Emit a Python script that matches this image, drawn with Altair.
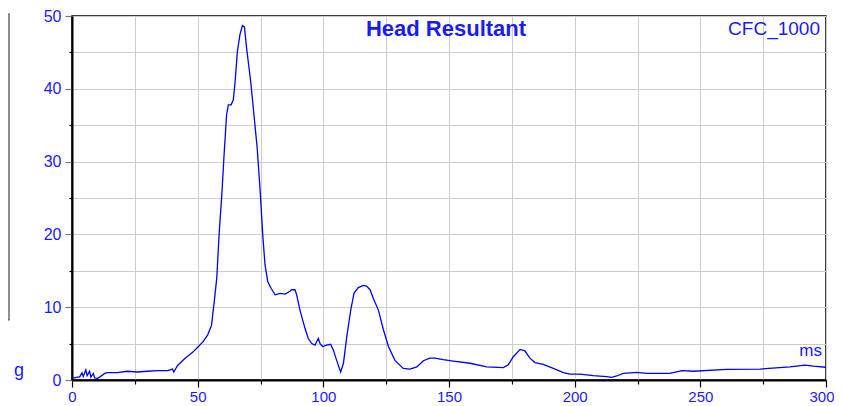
import altair as alt
import pandas as pd

# time (ms)
t_ms = [0, 1, 2, 3, 4, 4.5, 5.5, 6, 7, 7.5,
        8.5, 9, 10, 11, 13, 14, 18, 22, 26, 30,
        34, 38, 40, 40.5, 42, 45, 48, 50, 52, 54,
        55.5, 56.5, 57.6, 58.6, 59.6, 60.5, 61.5, 62.2, 63.3, 64.2,
        64.9, 65.8, 66.8, 67.8, 68.6, 69.5, 71.1, 72.8, 73.7, 74.8,
        75.9, 76.8, 77.9, 79.2, 80.8, 82.8, 84.8, 86.7, 87.4, 88.7,
        89.4, 90.7, 92.7, 94, 95.4, 96.7, 97.4, 98, 98.7, 99.7,
        101.3, 102.9, 104, 105.3, 106.9, 108, 109.3, 110.9, 112.2, 113.9,
        115.9, 117.2, 118.6, 119.9, 121.9, 123.9, 125.9, 128.5, 131.8, 134.5,
        137.2, 139.8, 142.4, 144.4, 147.7, 151.7, 158.4, 165, 171.6, 173.6,
        175.6, 178.3, 180.2, 182.2, 184.2, 187.5, 191.5, 195.5, 198.1, 202.1,
        207.4, 212.7, 214.7, 216.7, 219.4, 224.7, 228.7, 237.9, 242.6, 247.2,
        260.5, 273.7, 285.7, 291.6, 295, 300]

# head resultant acceleration (g)
accel_g = [0.3, 0.3, 0.4, 0.4, 1.0, 0.5, 1.4, 0.6, 1.2, 0.4,
           0.9, 0.3, 0.2, 0.4, 0.9, 1.0, 1.0, 1.2, 1.1, 1.2,
           1.3, 1.3, 1.5, 1.1, 2.0, 3.0, 3.8, 4.5, 5.2, 6.2,
           7.5, 10.5, 14, 20.4, 25.4, 30.9, 36.4, 37.8, 37.8, 38.5,
           41, 45.1, 47.4, 48.7, 48.5, 45.5, 41, 35, 31.8, 26.3,
           19.9, 15.8, 13.5, 12.6, 11.7, 11.9, 11.8, 12.2, 12.4, 12.4,
           11.7, 9.6, 7.1, 5.7, 5.0, 4.8, 5.3, 5.7, 5.0, 4.6,
           4.8, 4.9, 4.1, 2.7, 1.1, 2.3, 5.9, 9.6, 11.9, 12.7,
           13.0, 12.9, 12.4, 11.2, 9.6, 6.9, 4.6, 2.7, 1.6, 1.5,
           1.8, 2.65, 3.0, 3.0, 2.8, 2.6, 2.3, 1.8, 1.7, 2.1,
           3.2, 4.2, 4.0, 3.0, 2.4, 2.15, 1.6, 1.0, 0.8, 0.8,
           0.6, 0.45, 0.37, 0.55, 0.9, 1.05, 0.9, 0.9, 1.3, 1.2,
           1.45, 1.5, 1.8, 2.05, 1.9, 1.75]

x_ticks = [0, 25, 50, 75, 100, 125, 150, 175, 200, 225, 250, 275, 300]
y_ticks = [0, 5, 10, 15, 20, 25, 30, 35, 40, 45, 50]

title_text = ["Head Resultant"]
filter_text = ["CFC_1000"]
y_unit = ["g"]
x_unit = ["ms"]

FONT = "Liberation Sans"
BLUE = "#1a1aff"

df = pd.DataFrame({"t": t_ms, "g": accel_g})

line = alt.Chart(df).mark_line(color="#0000ff", strokeWidth=1.3).encode(
    x=alt.X("t:Q", scale=alt.Scale(domain=[0, 300], nice=False, zero=False),
            axis=alt.Axis(values=x_ticks, title=None,
                          labelExpr="datum.value % 50 === 0 ? datum.label : ''",
                          labelFlush=False,
                          labelAlign={"condition": {"test": "datum.value === 300", "value": "right"}, "value": "center"},
                          labelOffset={"condition": {"test": "datum.value === 300", "value": 8}, "value": 0},
                          tickSize={"condition": {"test": "datum.value % 50 === 0", "value": 7}, "value": 4},
                          tickColor="black", tickWidth=1.2,
                          domainColor="black", domainWidth=2,
                          labelPadding=2, labelFontSize=15, labelColor=BLUE,
                          labelFont=FONT, gridColor="#cccccc", gridWidth=1)),
    y=alt.Y("g:Q", scale=alt.Scale(domain=[0, 50], nice=False),
            axis=alt.Axis(values=y_ticks, title=None,
                          labelExpr="datum.value % 10 === 0 ? datum.label : ''",
                          tickSize={"condition": {"test": "datum.value % 10 === 0", "value": 7}, "value": 3},
                          tickColor={"condition": {"test": "datum.value % 10 === 0", "value": "#777777"}, "value": "black"},
                          tickWidth=1.2,
                          domainColor="black", domainWidth=2,
                          labelPadding=4, labelFontSize=16, labelColor=BLUE,
                          labelFont=FONT, gridColor="#cccccc", gridWidth=1)),
)

title = alt.Chart(pd.DataFrame({"s": title_text})).mark_text(
    font=FONT, fontSize=22, fontWeight="bold", color=BLUE, align="center", baseline="top"
).encode(text="s:N", x=alt.value(374), y=alt.value(3))

filt = alt.Chart(pd.DataFrame({"s": filter_text})).mark_text(
    font=FONT, fontSize=19, color=BLUE, align="right", baseline="top"
).encode(text="s:N", x=alt.value(748), y=alt.value(4))

gl = alt.Chart(pd.DataFrame({"s": y_unit})).mark_text(
    font=FONT, fontSize=18, color=BLUE, align="left", baseline="alphabetic"
).encode(text="s:N", x=alt.value(-58), y=alt.value(360))

ml = alt.Chart(pd.DataFrame({"s": x_unit})).mark_text(
    font=FONT, fontSize=17, color=BLUE, align="right", baseline="alphabetic"
).encode(text="s:N", x=alt.value(750), y=alt.value(340))

box = alt.Chart(pd.DataFrame({"s": [0]})).mark_rect(
    fill="white", fillOpacity=0, stroke="#444444", strokeWidth=1.2
).encode(x=alt.value(-80), x2=alt.value(-63), y=alt.value(-2), y2=alt.value(304))

chart = alt.layer(box, line, title, filt, gl, ml).properties(
    width=754, height=364,
    autosize=alt.AutoSizeParams(type="none"),
    padding={"left": 64, "top": 8, "right": 8, "bottom": 26},
    background="white",
).configure_view(stroke="black", strokeWidth=1.5)

chart.save("out.html", embed_options={"renderer": "svg", "actions": False})
